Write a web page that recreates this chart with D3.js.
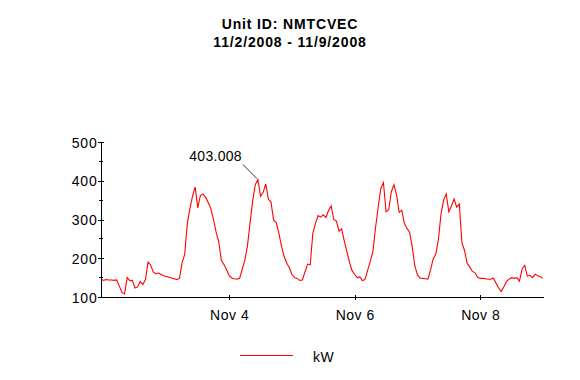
<!DOCTYPE html>
<html>
<head>
<meta charset="utf-8">
<script src="https://cdn.jsdelivr.net/npm/d3@7/dist/d3.min.js"></script>
<style>
  html, body { margin: 0; padding: 0; background: #fff; }
  svg { display: block; }
  text { font-family: Arial, "Liberation Sans", sans-serif; fill: #000; }
</style>
</head>
<body>
<svg id="chart" width="580" height="380"></svg>
<script>
// ---- data ----
const titleLines = ["Unit ID: NMTCVEC", "11/2/2008 - 11/9/2008"];
const seriesName = "kW";
const startTime = "2008-11-01T23:00:00Z";   // first sample, hourly steps
const endTime = "2008-11-09T00:00:00Z";
const kW = [
  145,143,145,144,144,143,144,128,112,108,150,142,143,123,126,140,132,145,190,182,
  164,160,162,158,155,153,151,149,147,145,148,188,210,290,328,360,384,330,362,366,
  357,344,328,300,268,243,195,184,171,155,149,147,146,148,172,195,232,292,348,390,
  403.008,360,370,392,352,345,298,292,265,232,205,188,176,158,150,148,143,144,165,185,
  183,265,290,310,306,312,305,323,335,300,296,270,276,245,218,190,168,158,150,152,
  142,146,170,193,219,280,333,380,395,320,325,371,390,364,318,324,290,277,267,230,
  180,157,149,148,147,146,170,198,210,248,314,350,366,320,335,353,332,340,240,220,
  187,177,166,163,151,148,148,147,146,146,149,136,124,114,126,140,146,150,148,150,
  141,172,182,154,156,150,159,155,152,148
];
const yMajorTicks = [100, 200, 300, 400, 500];
const yMinorTicks = [150, 250, 350, 450];
const xTickDates = ["2008-11-04T00:00:00Z", "2008-11-06T00:00:00Z", "2008-11-08T00:00:00Z"];

// ---- layout ----
const svg = d3.select("#chart");
const plot = { left: 101, right: 543, top: 142, bottom: 297 };

const t0 = new Date(startTime);
const points = kW.map((v, i) => ({ t: new Date(t0.getTime() + i * 3600e3), v }));

const x = d3.scaleUtc()
  .domain([t0, new Date(endTime)])
  .range([plot.left, plot.right]);
const y = d3.scaleLinear()
  .domain([100, 500])
  .range([plot.bottom, plot.top]);

// title
svg.append("g").selectAll("text").data(titleLines).join("text")
  .attr("x", 290)
  .attr("y", (d, i) => 29 + i * 17.5)
  .attr("text-anchor", "middle")
  .style("font-size", "14px")
  .style("font-weight", "bold")
  .style("letter-spacing", "0.85px")
  .text(d => d);

// line
svg.append("path")
  .datum(points)
  .attr("fill", "none")
  .attr("stroke", "#ff0000")
  .attr("stroke-width", 1.1)
  .attr("d", d3.line().x(d => x(d.t)).y(d => y(d.v)));

// y axis
const yAxis = svg.append("g")
  .attr("transform", `translate(${plot.left},0)`)
  .call(d3.axisLeft(y).tickValues(yMajorTicks).tickSizeOuter(0).tickFormat(d3.format("d")));
yAxis.select(".domain").attr("stroke", "#000").attr("stroke-width", 1).attr("shape-rendering", "crispEdges");
yAxis.selectAll(".tick line").attr("x1", -3).attr("x2", 3).attr("stroke", "#000").attr("shape-rendering", "crispEdges");
yAxis.selectAll(".tick text")
  .attr("x", -3.5).attr("dy", "0.36em")
  .style("font-size", "14px").style("font-family", "Arial, 'Liberation Sans', sans-serif")
  .style("letter-spacing", "0.8px");
yAxis.selectAll(".minor").data(yMinorTicks).join("line")
  .attr("class", "minor")
  .attr("x1", -2).attr("x2", 2)
  .attr("y1", d => y(d)).attr("y2", d => y(d))
  .attr("stroke", "#000").attr("shape-rendering", "crispEdges");

// x axis
const xAxis = svg.append("g")
  .attr("transform", `translate(0,${plot.bottom})`)
  .call(d3.axisBottom(x).tickValues(xTickDates.map(s => new Date(s)))
    .tickFormat(d3.utcFormat("%b %-d")).tickSizeOuter(0));
xAxis.select(".domain").attr("stroke", "#000").attr("stroke-width", 1).attr("shape-rendering", "crispEdges");
xAxis.selectAll(".tick line").attr("y1", -2).attr("y2", 3).attr("stroke", "#000").attr("shape-rendering", "crispEdges");
xAxis.selectAll(".tick text")
  .attr("y", 22.5).attr("dy", 0)
  .style("font-size", "14px").style("font-family", "Arial, 'Liberation Sans', sans-serif")
  .style("letter-spacing", "0.5px");

// max annotation
const maxPt = points.reduce((a, b) => (b.v > a.v ? b : a));
const mx = x(maxPt.t), my = y(maxPt.v);
svg.append("line")
  .attr("x1", mx - 15).attr("y1", my - 15)
  .attr("x2", mx - 1).attr("y2", my - 1)
  .attr("stroke", "#000").attr("stroke-width", 0.8);
svg.append("text")
  .attr("x", mx - 16).attr("y", my - 19)
  .attr("text-anchor", "end")
  .style("font-size", "14px")
  .style("letter-spacing", "0.3px")
  .text(d3.format(".3f")(maxPt.v));

// legend
const lg = svg.append("g");
lg.append("line").attr("x1", 240).attr("x2", 293).attr("y1", 355).attr("y2", 355)
  .attr("stroke", "#ff0000").attr("stroke-width", 1).attr("shape-rendering", "crispEdges");
lg.append("text").attr("x", 313).attr("y", 362)
  .style("font-size", "14px").style("letter-spacing", "0.5px").text(seriesName);
</script>
</body>
</html>
